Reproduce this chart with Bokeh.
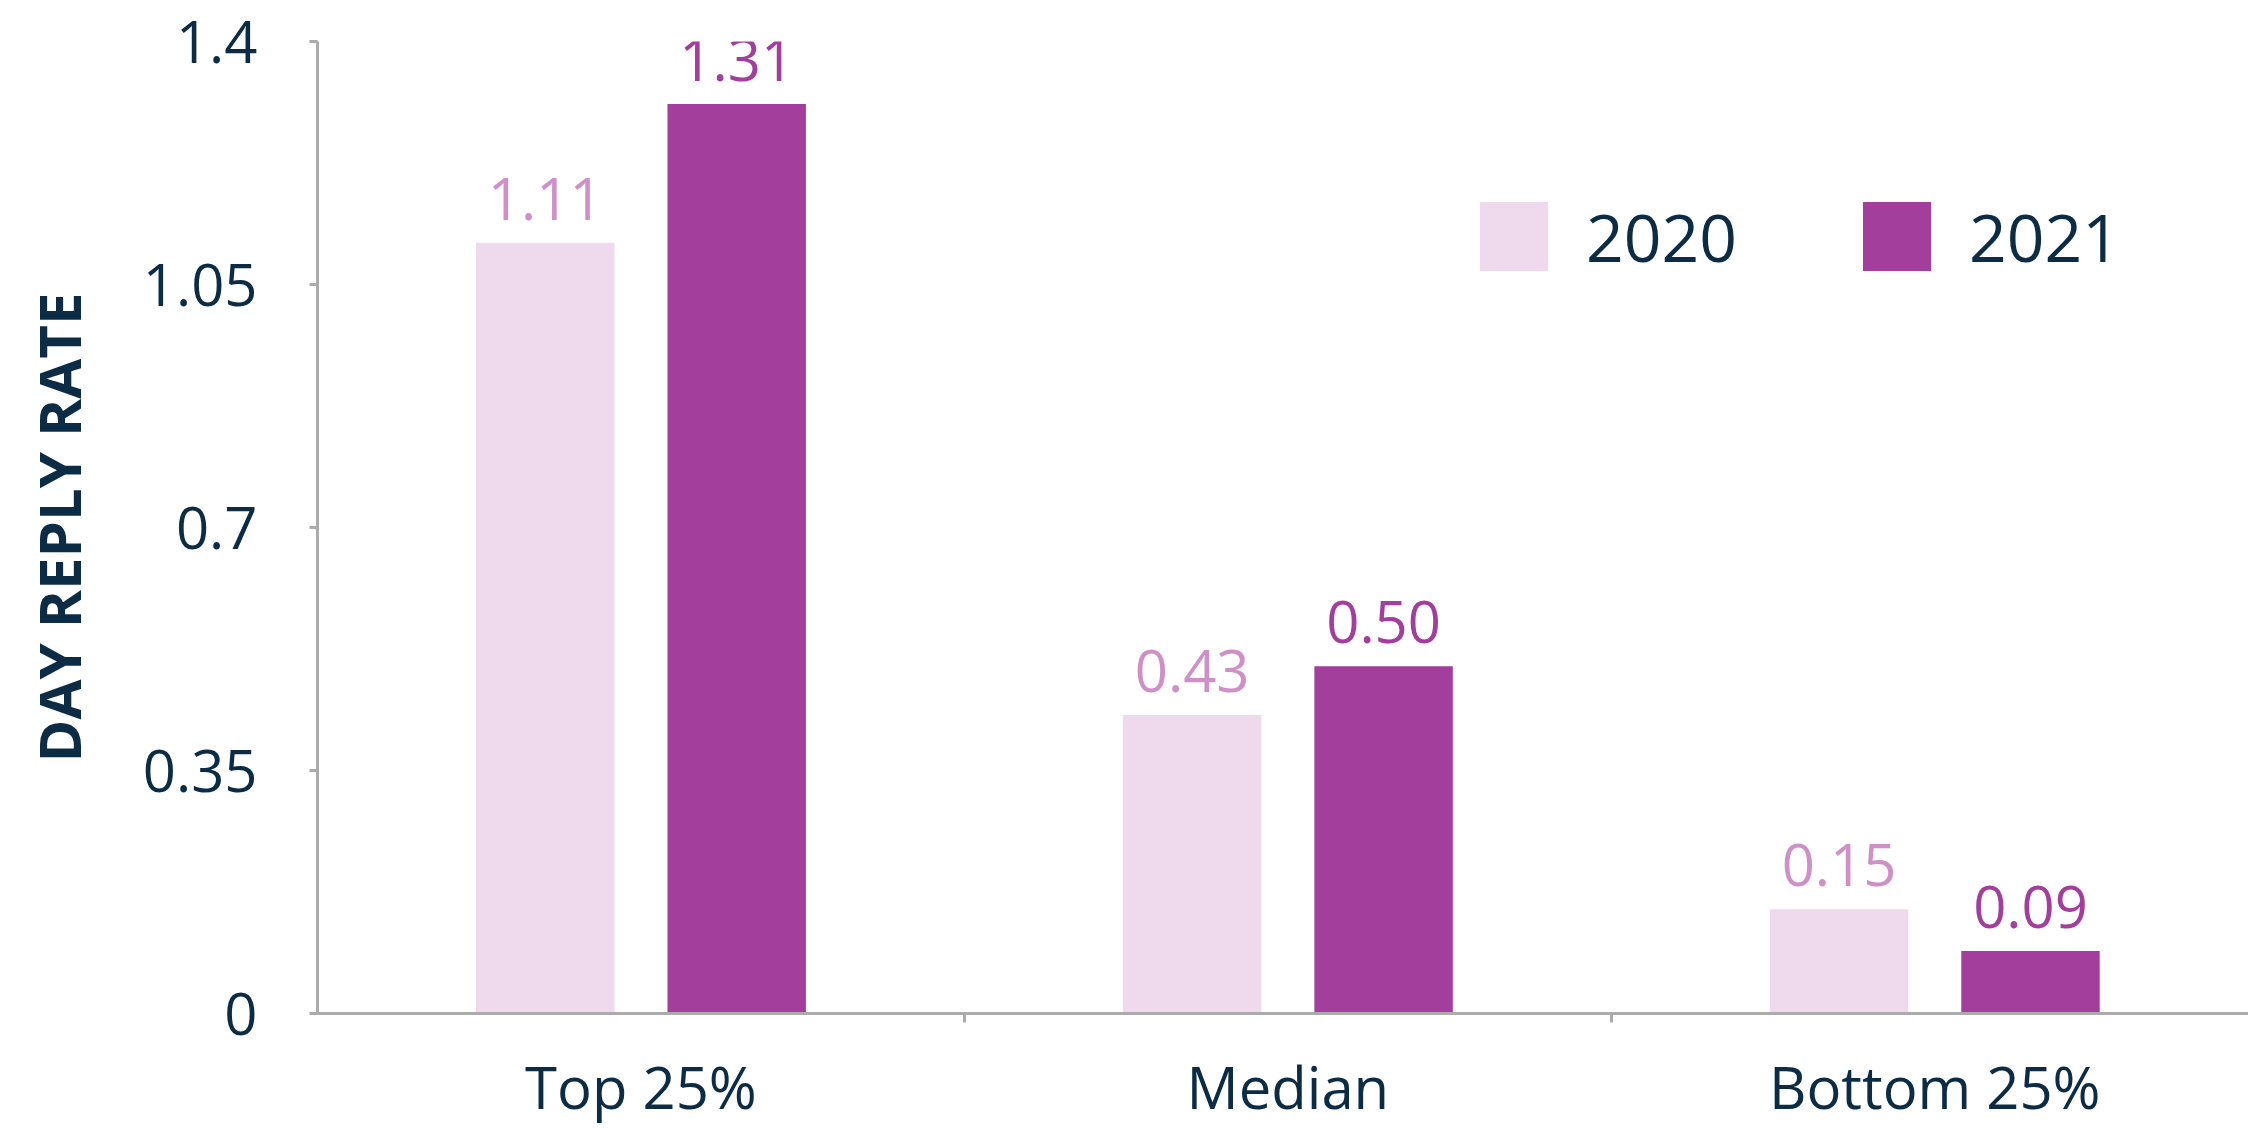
import numpy as np
from bokeh.plotting import figure
from bokeh.models import ColumnDataSource, FixedTicker, LabelSet, Legend, LegendItem, Range1d
from bokeh.core.properties import value
from bokeh.embed import file_html
from bokeh.resources import INLINE

categories = ["Top 25%", "Median", "Bottom 25%"]
years = ["2020", "2021"]
values_2020 = [1.11, 0.43, 0.15]
values_2021 = [1.31, 0.50, 0.09]
y_ticks = [0, 0.35, 0.7, 1.05, 1.4]
y_tick_labels = ["0", "0.35", "0.7", "1.05", "1.4"]

NAVY = "#0C2B44"
AXIS = "#ABABAB"
C2020 = "#EFDAED"
C2021 = "#A33E9C"
L2020 = "#CF90C8"
FONT = "Open Sans"

idx = np.arange(len(categories)) + 0.5
off = 0.148
bw = 0.214

src20 = ColumnDataSource(dict(x=idx - off, top=values_2020,
                              txt=["%.2f" % v for v in values_2020]))
src21 = ColumnDataSource(dict(x=idx + off, top=values_2021,
                              txt=["%.2f" % v for v in values_2021]))

p = figure(width=2248, height=1128, output_backend="svg", toolbar_location=None,
           x_range=Range1d(0, 2.985), y_range=Range1d(0, 1.4),
           min_border_left=317, min_border_right=0, min_border_top=41,
           min_border_bottom=115)
p.outline_line_color = None
p.xgrid.visible = False
p.ygrid.visible = False
p.background_fill_color = "white"
p.border_fill_color = "white"

r20 = p.vbar(x="x", top="top", width=bw, source=src20, fill_color=C2020, line_color=None)
r21 = p.vbar(x="x", top="top", width=bw, source=src21, fill_color=C2021, line_color=None)

for src, col in ((src20, L2020), (src21, C2021)):
    p.add_layout(LabelSet(x="x", y="top", text="txt", source=src, y_offset=23,
                          text_align="center", text_baseline="alphabetic",
                          text_color=col, text_font=value(FONT),
                          text_font_size="58px"))

# x axis
xa = p.xaxis[0]
xa.ticker = FixedTicker(ticks=list(idx), minor_ticks=[1, 2, 3])
xa.major_label_overrides = {float(i): c for i, c in zip(idx, categories)}
xa.major_tick_line_color = None
xa.major_tick_out = 0
xa.major_tick_in = 0
xa.minor_tick_line_color = AXIS
xa.minor_tick_line_width = 3
xa.minor_tick_out = 9
xa.minor_tick_in = 0
xa.axis_line_color = AXIS
xa.axis_line_width = 3
xa.major_label_standoff = 24
xa.major_label_text_font = FONT
xa.major_label_text_font_size = "58px"
xa.major_label_text_color = NAVY

# y axis
ya = p.yaxis[0]
ya.ticker = FixedTicker(ticks=y_ticks, minor_ticks=[])
ya.major_label_overrides = {float(t): l for t, l in zip(y_ticks, y_tick_labels)}
ya.major_tick_line_color = AXIS
ya.major_tick_line_width = 3
ya.major_tick_out = 8
ya.major_tick_in = 0
ya.axis_line_color = AXIS
ya.axis_line_width = 3
ya.major_label_standoff = 52
ya.major_label_text_font = FONT
ya.major_label_text_font_size = "58px"
ya.major_label_text_color = NAVY
ya.axis_label = "DAY REPLY RATE"
ya.axis_label_text_font = FONT
ya.axis_label_text_font_style = "bold"
ya.axis_label_text_font_size = "58px"
ya.axis_label_text_color = NAVY
ya.axis_label_standoff = 42

legend = Legend(items=[LegendItem(label=years[0], renderers=[r20]),
                       LegendItem(label=years[1], renderers=[r21])],
                orientation="horizontal", location=(1154, 732),
                glyph_width=85, glyph_height=86, label_standoff=30, spacing=117,
                padding=0, margin=0, border_line_color=None,
                background_fill_alpha=0,
                label_text_font=FONT, label_text_font_size="66px",
                label_text_color=NAVY, label_height=86)
p.add_layout(legend, "center")

open("out.html", "w").write(file_html(p, INLINE))
